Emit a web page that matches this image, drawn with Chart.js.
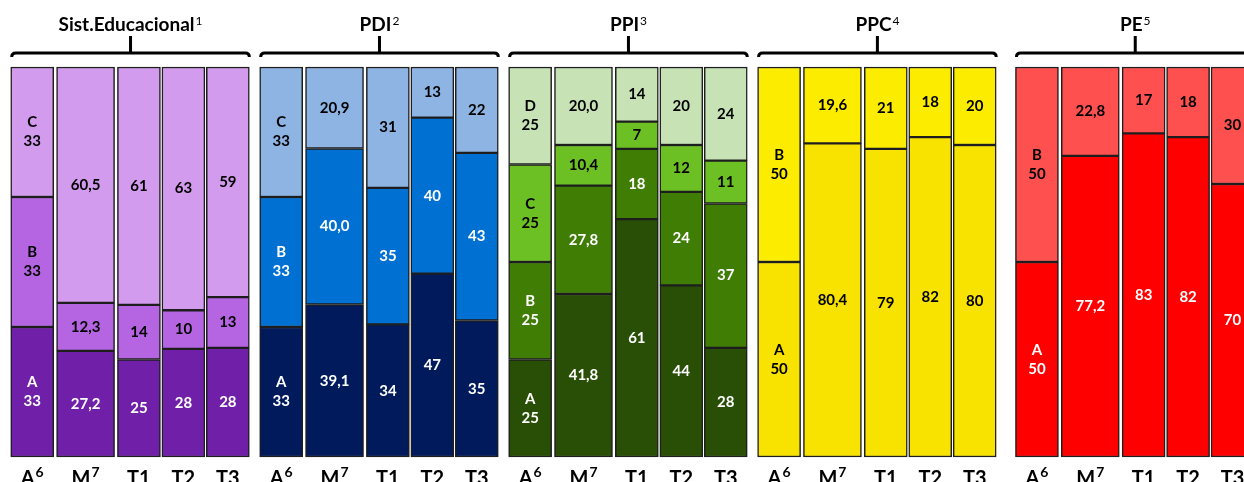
<!DOCTYPE html>
<html>
<head>
<meta charset="utf-8">
<title>Níveis por sistema</title>
<script src="https://cdn.jsdelivr.net/npm/chart.js@4"></script>
<style>
  html, body { margin: 0; padding: 0; background: #fff; overflow: hidden; }
  canvas { display: block; }
</style>
</head>
<body>
<canvas id="chart" width="1244" height="482"></canvas>
<script>
// bars inside each group and the group titles
const bars = ['A⁶', 'M⁷', 'T1', 'T2', 'T3'];
const groups = ['Sist.Educacional¹', 'PDI²', 'PPI³', 'PPC⁴', 'PE⁵'];
const levels = ['A', 'B', 'C', 'D'];
const decimals = [0, 1, 0, 0, 0];

// values per level, bottom segment first (A⁶, M⁷, T1, T2, T3)
const sistA = [33, 27.2, 25, 28, 28];
const sistB = [33, 12.3, 14, 10, 13];
const sistC = [33, 60.5, 61, 63, 59];

const pdiA = [33, 39.1, 34, 47, 35];
const pdiB = [33, 40.0, 35, 40, 43];
const pdiC = [33, 20.9, 31, 13, 22];

const ppiA = [25, 41.8, 61, 44, 28];
const ppiB = [25, 27.8, 18, 24, 37];
const ppiC = [25, 10.4, 7, 12, 11];
const ppiD = [25, 20.0, 14, 20, 24];

const ppcA = [50, 80.4, 79, 82, 80];
const ppcB = [50, 19.6, 21, 18, 20];

const peA = [50, 77.2, 83, 82, 70];
const peB = [50, 22.8, 17, 18, 30];

const groupSeries = [
  [sistA, sistB, sistC],
  [pdiA, pdiB, pdiC],
  [ppiA, ppiB, ppiC, ppiD],
  [ppcA, ppcB],
  [peA, peB]
];

// styles
const fills = [
  ['#7020a8', '#b565e2', '#d39bee'],
  ['#001a5c', '#0070d2', '#8db4e3'],
  ['#294f06', '#3f7d05', '#6cc024', '#c7e3b6'],
  ['#f8e200', '#fbec00'],
  ['#ff0000', '#ff5050']
];
const inks = [
  ['#fff', '#000', '#000'],
  ['#fff', '#fff', '#000'],
  ['#fff', '#fff', '#000', '#000'],
  ['#000', '#000'],
  ['#fff', '#000']
];
const narrowBar = 43;
const wideBar = 58;
const fontFamily = 'Lato, "DejaVu Sans", sans-serif';

// x axis is split in thin slots so the bars get uneven spacing
const leadSlots = [2, 6, 6, 6, 7];
const stepSlots = [6, 6, 5, 5];

const barSlots = [];
let pos = 0;
groups.forEach((g, gi) => {
  pos += leadSlots[gi];
  const row = [pos];
  stepSlots.forEach(s => { pos += s; row.push(pos); });
  barSlots.push(row);
});
const slotCount = pos + 1;
const slotLabels = new Array(slotCount).fill('');
barSlots.forEach(row => row.forEach((s, b) => { slotLabels[s] = bars[b]; }));

const datasets = [];
groupSeries.forEach((series, g) => {
  series.forEach((values, l) => {
    [false, true].forEach(wide => {
      const data = new Array(slotCount).fill(null);
      const texts = new Array(slotCount).fill(null);
      bars.forEach((bar, b) => {
        if ((b === 1) !== wide) return;
        const total = series.reduce((sum, arr) => sum + arr[b], 0);
        const slot = barSlots[g][b];
        data[slot] = values[b] / total * 100;
        const shown = values[b].toFixed(decimals[b]).replace('.', ',');
        texts[slot] = b === 0 ? [levels[l], shown] : [shown];
      });
      datasets.push({
        label: groups[g] + ' ' + levels[l],
        data: data,
        texts: texts,
        textColor: inks[g][l],
        backgroundColor: fills[g][l],
        borderColor: '#1e1e1e',
        borderWidth: 1.5,
        borderSkipped: false,
        barThickness: wide ? wideBar : narrowBar,
        stack: 'all',
        clip: false
      });
    });
  });
});

// text with a trailing superscript digit (¹²³⁴⁵⁶⁷) drawn smaller and raised
const supDigits = { '¹': '1', '²': '2', '³': '3', '⁴': '4', '⁵': '5', '⁶': '6', '⁷': '7' };
function drawSup(ctx, text, cx, baseline, size, supFont, rise) {
  let main = text, sup = '';
  const last = text.slice(-1);
  if (supDigits[last]) { main = text.slice(0, -1); sup = supDigits[last]; }
  ctx.font = 'bold ' + size + 'px ' + fontFamily;
  const w1 = ctx.measureText(main).width;
  ctx.font = supFont + ' ' + fontFamily;
  const w2 = sup ? ctx.measureText(sup).width + 1 : 0;
  const start = cx - (w1 + w2) / 2;
  ctx.textAlign = 'left';
  ctx.textBaseline = 'alphabetic';
  ctx.font = 'bold ' + size + 'px ' + fontFamily;
  ctx.fillText(main, start, baseline);
  if (sup) {
    ctx.font = supFont + ' ' + fontFamily;
    ctx.fillText(sup, start + w1 + 1, baseline - rise);
  }
}

const segmentLabels = {
  id: 'segmentLabels',
  afterDatasetsDraw(chart) {
    const ctx = chart.ctx;
    ctx.save();
    ctx.font = 'bold 15px ' + fontFamily;
    ctx.textAlign = 'center';
    ctx.textBaseline = 'middle';
    chart.data.datasets.forEach((ds, i) => {
      chart.getDatasetMeta(i).data.forEach((el, j) => {
        const lines = ds.texts[j];
        if (!lines) return;
        const cy = (el.y + el.base) / 2;
        ctx.fillStyle = ds.textColor;
        lines.forEach((t, k) => {
          ctx.fillText(t, el.x, cy + (k - (lines.length - 1) / 2) * 19);
        });
      });
    });
    ctx.restore();
  }
};

const groupBraces = {
  id: 'groupBraces',
  afterDraw(chart) {
    const ctx = chart.ctx;
    const x = chart.scales.x;
    const lineY = 53;
    ctx.save();
    ctx.strokeStyle = '#000';
    ctx.fillStyle = '#000';
    ctx.lineWidth = 3;
    barSlots.forEach((row, g) => {
      const left = x.getPixelForValue(row[0]) - narrowBar / 2 + 1;
      const right = x.getPixelForValue(row[4]) + narrowBar / 2;
      const mid = (left + right) / 2;
      ctx.beginPath();
      ctx.moveTo(left, lineY + 4);
      ctx.quadraticCurveTo(left, lineY, left + 4, lineY);
      ctx.lineTo(right - 4, lineY);
      ctx.quadraticCurveTo(right, lineY, right, lineY + 4);
      ctx.moveTo(mid, lineY);
      ctx.lineTo(mid, lineY - 17);
      ctx.stroke();
      drawSup(ctx, groups[g], mid, 31, 19, '12px', 6);
    });
    // bar names under the bars
    slotLabels.forEach((lab, i) => {
      if (!lab) return;
      drawSup(ctx, lab, x.getPixelForValue(i), 485, 20, 'bold 14px', 8);
    });
    ctx.restore();
  }
};

new Chart(document.getElementById('chart'), {
  type: 'bar',
  data: { labels: slotLabels, datasets: datasets },
  options: {
    responsive: false,
    animation: false,
    layout: { autoPadding: false, padding: { left: 10, right: 7, top: 67, bottom: 25 } },
    plugins: { legend: { display: false }, tooltip: { enabled: false } },
    scales: {
      x: { stacked: true, display: false },
      y: { stacked: true, min: 0, max: 100, display: false }
    }
  },
  plugins: [segmentLabels, groupBraces]
});
</script>
</body>
</html>
